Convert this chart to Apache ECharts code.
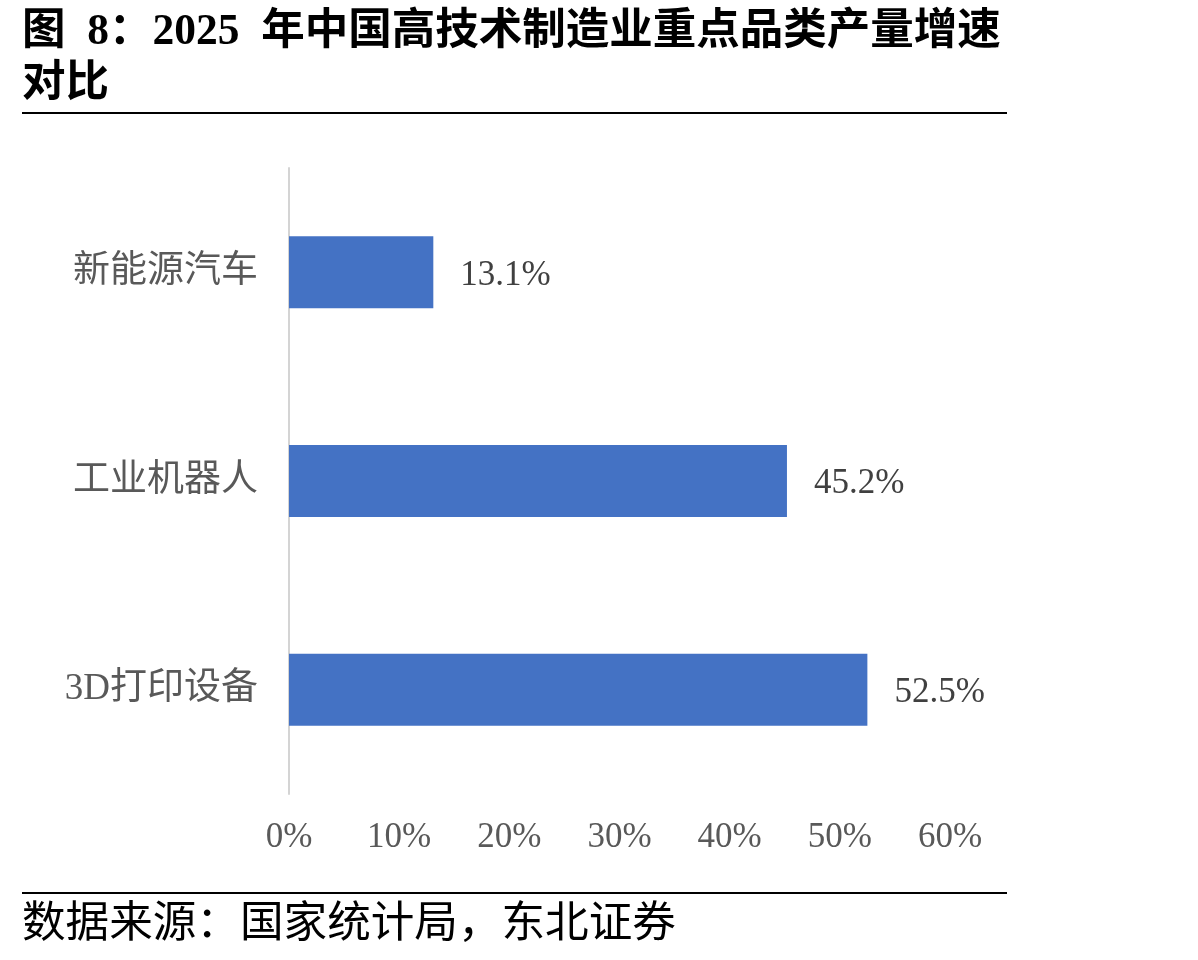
<!DOCTYPE html>
<html><head><meta charset="utf-8">
<script src="https://cdn.jsdelivr.net/npm/echarts@6/dist/echarts.min.js"></script>
<style>html,body{margin:0;padding:0;background:#fff}#c{width:1198px;height:960px}</style>
</head><body><div id="c"></div>
<script>
const categories = ['新能源汽车', '工业机器人', '3D打印设备'];
const growth = [13.1, 45.2, 52.5];
const xTicks = { min: 0, max: 60, interval: 10 };
const titleLines = ['图  8：2025  年中国高技术制造业重点品类产量增速', '对比'];
const sourceText = '数据来源：国家统计局，东北证券';

const serif = '"Liberation Serif", "Noto Sans CJK SC", serif';
const chart = echarts.init(document.getElementById('c'), null, {renderer: 'canvas'});
chart.setOption({
  animation: false,
  backgroundColor: '#fff',
  grid: { left: 289, right: 248, top: 168, bottom: 166, containLabel: false },
  xAxis: {
    type: 'value', min: xTicks.min, max: xTicks.max, interval: xTicks.interval,
    axisLine: { show: false }, axisTick: { show: false }, splitLine: { show: false },
    axisLabel: { formatter: v => v + '%', fontFamily: serif, fontSize: 35, color: '#595959', margin: 26 }
  },
  yAxis: {
    type: 'category', data: categories, inverse: true,
    axisLine: { show: true, lineStyle: { color: '#d4d4d4', width: 2 } },
    axisTick: { show: false },
    axisLabel: { fontFamily: serif, fontSize: 37, color: '#595959', margin: 31 }
  },
  series: [{
    type: 'bar', data: growth, barWidth: 72,
    itemStyle: { color: '#4472C4' },
    label: { show: true, position: 'right', distance: 27, formatter: p => p.value.toFixed(1) + '%',
      fontFamily: serif, fontSize: 35, color: '#404040', offset: [0, 3] }
  }],
  graphic: [
    { type: 'text', left: 22, top: 11, style: { text: titleLines[0], font: 'bold 43.5px ' + serif, fill: '#000' } },
    { type: 'text', left: 22, top: 63, style: { text: titleLines[1], font: 'bold 43.5px ' + serif, fill: '#000' } },
    { type: 'rect', shape: { x: 22, y: 112, width: 985, height: 2 }, style: { fill: '#000' } },
    { type: 'rect', shape: { x: 22, y: 892, width: 985, height: 2 }, style: { fill: '#000' } },
    { type: 'text', left: 22, top: 904, style: { text: sourceText, font: '43.6px ' + serif, fill: '#000' } }
  ]
});
</script></body></html>
